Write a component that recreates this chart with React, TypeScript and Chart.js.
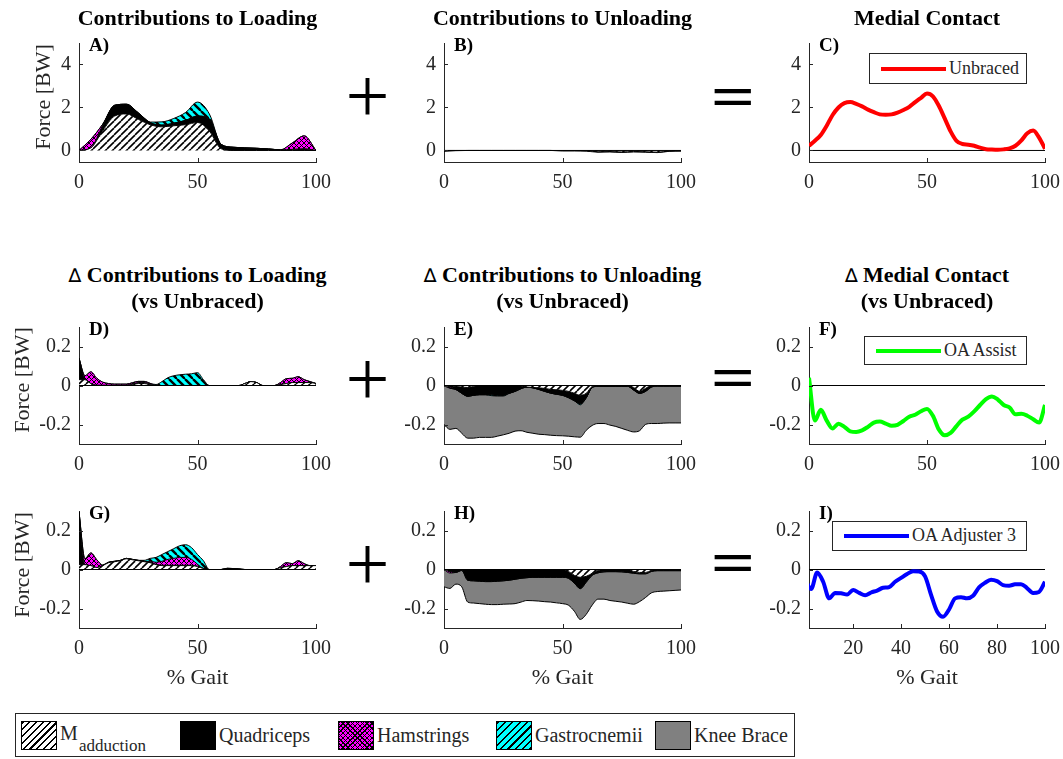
import React, { useEffect, useRef } from "react";
import { Chart, registerables } from "chart.js";
Chart.register(...registerables);

const SERIF = '"Liberation Serif", "Times New Roman", Times, serif';
const AX = "#262626";

// ---------- data ----------
const X5 = [0, 5, 10, 15, 20, 25, 30, 35, 40, 45, 50, 55, 60, 65, 70, 75, 80, 85, 90, 95, 100];
const X25 = [0, 2.5, 5, 7.5, 10, 12.5, 15, 17.5, 20, 22.5, 25, 27.5, 30, 32.5, 35, 37.5, 40, 42.5, 45, 47.5, 50,
  52.5, 55, 57.5, 60, 62.5, 65, 67.5, 70, 72.5, 75, 77.5, 80, 82.5, 85, 87.5, 90, 92.5, 95, 97.5, 100];

const X_TICKS = [0, 50, 100];
const X_TICKS_I = [20, 40, 60, 80, 100];
const Y_TICKS_TOP = [0, 2, 4];
const Y_TICKS_DELTA = [-0.2, 0, 0.2];

// A) contributions to loading (unbraced), step 5 %
const A_MADD = [0, 0.12, 0.92, 1.6, 1.7, 1.45, 1.2, 1.1, 1.15, 1.2, 1.3, 0.9, 0.08, 0, 0, 0, 0, 0, 0, 0, 0];
const A_QUAD = [0, 0, 0.25, 0.5, 0.45, 0.3, 0.1, 0.08, 0.12, 0.2, 0.3, 0.55, 0.2, 0.15, 0.12, 0.1, 0.07, 0.03, 0.05, 0.08, 0];
const A_HAM = [0, 0.4, 0.05, 0, 0, 0, 0, 0, 0, 0, 0, 0, 0, 0, 0, 0, 0, 0, 0.3, 0.6, 0];
const A_GAST = [0, 0, 0, 0, 0, 0, 0.02, 0.15, 0.22, 0.37, 0.65, 0.25, 0, 0, 0, 0, 0, 0, 0, 0, 0];

// B) contributions to unloading (unbraced), step 5 %
const B_MADD = [0, 0, 0, 0, 0, 0, 0, 0, 0, 0, -0.01, -0.01, -0.02, -0.06, -0.05, -0.07, -0.05, -0.06, -0.08, -0.03, -0.02];
const B_QUAD = [-0.04, -0.01, 0, 0, 0, 0, 0, 0, 0, 0, -0.01, -0.01, -0.01, -0.02, -0.02, -0.02, -0.02, -0.02, -0.02, -0.01, -0.01];

// C) medial contact, unbraced, step 2.5 %
const C_UNBRACED = [0.22, 0.45, 0.72, 1.15, 1.65, 2.0, 2.2, 2.25, 2.17, 2.05, 1.9, 1.78, 1.68, 1.66, 1.68, 1.76, 1.88, 2.03,
  2.25, 2.45, 2.65, 2.52, 2.08, 1.49, 0.89, 0.45, 0.3, 0.27, 0.22, 0.13, 0.06, 0.04, 0.03, 0.05, 0.1, 0.22, 0.47, 0.8,
  0.93, 0.6, 0.08];

// D) delta loading, OA Assist
const D_MADD = [0.03, 0.03, 0.01, 0, 0, 0, 0, 0, 0, 0.005, 0.01, 0.01, 0.005, 0, 0, 0, 0, 0, 0, 0, 0, 0, 0, 0, 0, 0, 0, 0,
  0.01, 0.02, 0.015, 0, 0, 0, 0.005, 0.01, 0.015, 0.015, 0.015, 0.015, 0.01];
const D_QUAD = [0.11, 0, 0, 0.002, 0.002, 0.002, 0.002, 0.002, 0.002, 0.003, 0.005, 0.006, 0.003, 0, 0, 0, 0, 0, 0, 0, 0,
  0, 0, 0, 0, 0, 0, 0, 0, 0, 0, 0, 0, 0, 0, 0, 0, 0, 0, 0, 0];
const D_HAM = [0, 0.02, 0.06, 0.035, 0.015, 0.008, 0.005, 0.005, 0.005, 0.006, 0.006, 0.005, 0.003, 0, 0, 0, 0, 0, 0, 0, 0,
  0, 0, 0, 0, 0, 0, 0, 0, 0, 0, 0, 0, 0, 0.01, 0.025, 0.022, 0.03, 0.015, 0.005, 0];
const D_GAST = [0, 0, 0, 0, 0, 0, 0, 0, 0, 0, 0, 0, 0, 0.005, 0.02, 0.04, 0.05, 0.055, 0.058, 0.06, 0.066, 0.03, 0, 0, 0,
  0, 0, 0, 0, 0, 0, 0, 0, 0, 0, 0, 0, 0, 0, 0, 0];

// E) delta unloading, OA Assist
const E_MADD = [0, 0, -0.005, -0.008, -0.01, -0.005, 0, 0, 0, 0, 0, 0, 0, -0.003, -0.008, -0.01, -0.012, -0.015, -0.02,
  -0.022, -0.025, -0.03, -0.04, -0.05, -0.04, -0.005, 0, 0, 0, 0, 0, 0, -0.01, -0.03, -0.015, 0, 0, 0, 0, 0, 0];
const E_QUAD = [0, -0.008, -0.015, -0.032, -0.045, -0.045, -0.047, -0.047, -0.048, -0.05, -0.05, -0.04, -0.03, -0.013, 0,
  -0.002, -0.008, -0.015, -0.019, -0.023, -0.025, -0.032, -0.038, -0.044, -0.023, -0.005, -0.004, -0.004, -0.004,
  -0.004, -0.004, -0.004, -0.013, -0.01, -0.015, -0.008, -0.003, -0.003, -0.003, -0.003, -0.003];
const E_HAM = [0, -0.006, 0, 0, 0, 0, 0, 0, 0, 0, 0, 0, 0, 0, 0, 0, 0, 0, 0, 0, 0, 0, 0, 0, 0, 0, 0, 0, 0, 0, 0, 0, 0, 0,
  0, 0, 0, 0, 0, 0, 0];
const E_GAST = [0, 0, 0, 0, 0, 0, 0, 0, -0.004, -0.004, -0.004, 0, 0, 0, 0, 0, 0, 0, 0, 0, 0, 0, 0, -0.005, 0, 0, 0, 0,
  0, 0, 0, 0, 0, 0, 0, 0, 0, 0, 0, 0, 0];
const E_BRACE = [-0.2, -0.211, -0.2, -0.205, -0.215, -0.22, -0.219, -0.219, -0.214, -0.206, -0.199, -0.205, -0.204,
  -0.216, -0.232, -0.233, -0.23, -0.222, -0.216, -0.212, -0.208, -0.198, -0.185, -0.166, -0.167, -0.195, -0.191, -0.191,
  -0.199, -0.206, -0.216, -0.226, -0.215, -0.192, -0.17, -0.187, -0.192, -0.19, -0.189, -0.189, -0.189];

// F) delta medial contact, OA Assist
const F_ASSIST = [0.04, -0.18, -0.125, -0.18, -0.22, -0.196, -0.212, -0.235, -0.238, -0.23, -0.212, -0.19, -0.185, -0.195,
  -0.207, -0.202, -0.182, -0.16, -0.15, -0.132, -0.12, -0.155, -0.225, -0.255, -0.243, -0.208, -0.175, -0.16, -0.133,
  -0.1, -0.07, -0.056, -0.072, -0.1, -0.113, -0.148, -0.145, -0.155, -0.173, -0.19, -0.1];

// G) delta loading, OA Adjuster 3
const G_MADD = [0.025, 0.025, 0.02, 0.01, 0.02, 0.035, 0.04, 0.045, 0.055, 0.05, 0.045, 0.04, 0.035, 0.025, 0.02, 0.02,
  0.02, 0.02, 0.02, 0.02, 0.015, 0.005, 0, 0, 0, 0, 0, 0, 0, 0, 0, 0, 0, 0, 0.01, 0.015, 0.02, 0.02, 0.02, 0.02, 0.02];
const G_QUAD = [0.27, 0, 0, 0, 0.002, 0.002, 0.002, 0.002, 0.002, 0.002, 0.002, 0.002, 0.002, 0.002, 0.002, 0.002, 0.002,
  0.002, 0.002, 0.002, 0.002, 0, 0, 0, 0, 0.006, 0.005, 0.003, 0, 0, 0, 0, 0, 0, 0, 0, 0, 0, 0, 0, 0];
const G_HAM = [0, 0.03, 0.065, 0.04, 0, 0, 0, 0, 0, 0, 0, 0, 0.005, 0.01, 0.02, 0.03, 0.035, 0.04, 0.04, 0.03, 0.01, 0,
  0, 0, 0, 0, 0, 0, 0, 0, 0, 0, 0, 0, 0.005, 0.02, 0.01, 0.025, 0.01, 0, 0];
const G_GAST = [0, 0, 0, 0, 0, 0, 0, 0, 0, 0, 0, 0.005, 0.015, 0.025, 0.035, 0.04, 0.05, 0.06, 0.065, 0.06, 0.05, 0.04,
  0, 0, 0, 0, 0, 0, 0, 0, 0, 0, 0, 0, 0, 0, 0, 0, 0, 0, 0];

// H) delta unloading, OA Adjuster 3
const H_MADD = [0, 0, 0, 0, 0, 0, 0, 0, 0, 0, 0, 0, 0, 0, 0, 0, 0, 0, 0, 0, 0, -0.01, -0.03, -0.04, -0.035, -0.02, -0.005,
  0, 0, 0, 0, 0, -0.01, -0.015, -0.015, -0.005, 0, 0, 0, 0, 0];
const H_QUAD = [0, -0.01, -0.015, -0.005, -0.055, -0.058, -0.06, -0.062, -0.062, -0.06, -0.058, -0.055, -0.05, -0.045,
  -0.042, -0.04, -0.04, -0.04, -0.04, -0.04, -0.04, -0.035, -0.04, -0.058, -0.03, -0.01, -0.012, -0.012, -0.011, -0.011,
  -0.012, -0.015, -0.009, -0.007, -0.007, -0.005, -0.006, -0.006, -0.006, -0.006, -0.006];
const H_HAM = [0, -0.008, 0, 0, 0, 0, 0, 0, 0, 0, 0, 0, 0, 0, 0, 0, 0, 0, 0, 0, 0, 0, 0, 0, 0, 0, 0, 0, 0, 0, 0, 0, 0, 0,
  0, 0, 0, 0, 0, 0, 0];
const H_BRACE = [-0.089, -0.079, -0.06, -0.084, -0.112, -0.114, -0.115, -0.116, -0.118, -0.12, -0.12, -0.122, -0.125,
  -0.122, -0.117, -0.12, -0.122, -0.125, -0.127, -0.131, -0.135, -0.138, -0.144, -0.158, -0.165, -0.153, -0.135, -0.14,
  -0.148, -0.152, -0.155, -0.158, -0.159, -0.143, -0.122, -0.11, -0.107, -0.105, -0.103, -0.101, -0.099];

// I) delta medial contact, OA Adjuster 3
const I_ADJ = [-0.05, -0.1, -0.015, -0.063, -0.148, -0.12, -0.122, -0.128, -0.105, -0.12, -0.132, -0.118, -0.108, -0.094,
  -0.09, -0.063, -0.043, -0.023, -0.009, -0.01, -0.035, -0.13, -0.215, -0.242, -0.205, -0.148, -0.142, -0.148, -0.135,
  -0.092, -0.068, -0.053, -0.06, -0.08, -0.083, -0.076, -0.075, -0.095, -0.12, -0.115, -0.063];

const LEGEND_LABELS = ["Quadriceps", "Hamstrings", "Gastrocnemii", "Knee Brace"];

// ---------- layout ----------
const ROWS = [{ t: 33, b: 162 }, { t: 317, b: 444 }, { t: 501, b: 628 }];
const COLS = [{ l: 79, r: 316 }, { l: 444, r: 681 }, { l: 809, r: 1045 }];
const YW = 70, PR = 24, PT = 10, XH = 40;

type Layer = [number[], string];
type PanelCfg = {
  row: number; col: number; xs: number[]; xmin: number; xmax: number; xticks: number[];
  ymin: number; ymax: number; yticks: number[]; layers?: Layer[]; line?: { data: number[]; color: string };
  zero: boolean;
};

const TOPY = { ymin: -0.537, ymax: 5, yticks: Y_TICKS_TOP };
const DY = { ymin: -0.3, ymax: 0.3, yticks: Y_TICKS_DELTA };
const STDX = { xmin: 0, xmax: 100, xticks: X_TICKS };

const PANELS: PanelCfg[] = [
  { row: 0, col: 0, xs: X5, ...STDX, ...TOPY, zero: false,
    layers: [[A_MADD, "madd"], [A_QUAD, "quad"], [A_HAM, "ham"], [A_GAST, "gast"]] },
  { row: 0, col: 1, xs: X5, ...STDX, ...TOPY, zero: true, layers: [[B_MADD, "madd"], [B_QUAD, "quad"]] },
  { row: 0, col: 2, xs: X25, ...STDX, ...TOPY, zero: true, line: { data: C_UNBRACED, color: "#ff0000" } },
  { row: 1, col: 0, xs: X25, ...STDX, ...DY, zero: true,
    layers: [[D_MADD, "madd"], [D_QUAD, "quad"], [D_HAM, "ham"], [D_GAST, "gast"]] },
  { row: 1, col: 1, xs: X25, ...STDX, ...DY, zero: true,
    layers: [[E_MADD, "madd"], [E_QUAD, "quad"], [E_HAM, "ham"], [E_GAST, "gast"], [E_BRACE, "brace"]] },
  { row: 1, col: 2, xs: X25, ...STDX, ...DY, zero: true, line: { data: F_ASSIST, color: "#00ff00" } },
  { row: 2, col: 0, xs: X25, ...STDX, ...DY, zero: true,
    layers: [[G_MADD, "madd"], [G_QUAD, "quad"], [G_HAM, "ham"], [G_GAST, "gast"]] },
  { row: 2, col: 1, xs: X25, ...STDX, ...DY, zero: true,
    layers: [[H_MADD, "madd"], [H_QUAD, "quad"], [H_HAM, "ham"], [H_BRACE, "brace"]] },
  { row: 2, col: 2, xs: X25, xmin: 1.6, xmax: 100, xticks: X_TICKS_I, ...DY, zero: true,
    line: { data: I_ADJ, color: "#0000ff" } },
];

function hatch(bg: string, fg: string, s: number, lw: number, dirs: string[]): CanvasPattern | string {
  const c = document.createElement("canvas");
  c.width = s; c.height = s;
  const g = c.getContext("2d");
  if (!g) return bg;
  g.fillStyle = bg; g.fillRect(0, 0, s, s);
  g.strokeStyle = fg; g.lineWidth = lw;
  for (const d of dirs) {
    for (let k = -1; k <= 1; k++) {
      g.beginPath();
      if (d === "/") { g.moveTo(k * s, s); g.lineTo(k * s + s, 0); }
      else { g.moveTo(k * s, 0); g.lineTo(k * s + s, s); }
      g.stroke();
    }
  }
  return g.createPattern(c, "repeat") || bg;
}

const inTicks = {
  id: "inTicks",
  afterDraw(chart: any) {
    const { ctx, chartArea: a, scales } = chart;
    ctx.save();
    ctx.strokeStyle = AX; ctx.lineWidth = 1;
    ctx.beginPath();
    for (const t of scales.x.ticks) {
      const px = Math.round(scales.x.getPixelForValue(t.value)) + 0.5;
      ctx.moveTo(px, a.bottom); ctx.lineTo(px, a.bottom - 4);
    }
    for (const t of scales.y.ticks) {
      const py = Math.round(scales.y.getPixelForValue(t.value)) + 0.5;
      ctx.moveTo(a.left, py); ctx.lineTo(a.left + 4, py);
    }
    ctx.stroke();
    ctx.restore();
  },
};

function geom(p: PanelCfg) {
  const { l, r } = COLS[p.col];
  const { t, b } = ROWS[p.row];
  return { left: l - YW, top: t - PT, width: r - l + YW + PR, height: b - t + PT + XH };
}

function makeChart(canvas: HTMLCanvasElement, p: PanelCfg, pats: Record<string, any>) {
  const ds: any[] = [];
  const zeroDs = {
    data: [{ x: p.xmin, y: 0 }, { x: p.xmax, y: 0 }], borderColor: "#000", borderWidth: 1,
    pointRadius: 0, fill: false,
  };
  if (p.line) {
    ds.push({
      data: p.xs.map((x, i) => ({ x, y: p.line!.data[i] })), borderColor: p.line.color, borderWidth: 4,
      pointRadius: 0, fill: false, cubicInterpolationMode: "monotone",
    });
    ds.push(zeroDs);
  } else {
    if (p.zero) ds.push(zeroDs);
    let cum = p.xs.map(() => 0);
    (p.layers || []).forEach(([vals, key], k) => {
      cum = cum.map((c, i) => c + vals[i]);
      const idx = ds.length;
      ds.push({
        data: p.xs.map((x, i) => ({ x, y: cum[i] })), fill: k === 0 ? "origin" : idx - 1,
        backgroundColor: pats[key], borderColor: "#000", borderWidth: 1, pointRadius: 0,
        cubicInterpolationMode: "monotone",
      });
    });
  }
  const font = { family: SERIF, size: 20 };
  return new Chart(canvas, {
    type: "line",
    data: { datasets: ds },
    options: {
      animation: false, responsive: false, devicePixelRatio: 1, events: [],
      layout: { padding: { left: 0, right: PR, top: PT, bottom: 0 } },
      plugins: { legend: { display: false }, tooltip: { enabled: false } },
      scales: {
        x: {
          type: "linear", min: p.xmin, max: p.xmax,
          grid: { display: false, drawTicks: false }, border: { display: true, color: AX, width: 1 },
          ticks: { font, color: AX, padding: 9, maxRotation: 0, autoSkip: false, callback: (v: any) => String(v) },
          afterBuildTicks: (s: any) => { s.ticks = p.xticks.map((v) => ({ value: v })); },
          afterFit: (s: any) => { s.height = XH; },
        },
        y: {
          type: "linear", min: p.ymin, max: p.ymax,
          grid: { display: false, drawTicks: false }, border: { display: true, color: AX, width: 1 },
          ticks: { font, color: AX, padding: 8, autoSkip: false, callback: (v: any) => String(v) },
          afterBuildTicks: (s: any) => { s.ticks = p.yticks.map((v) => ({ value: v })); },
          afterFit: (s: any) => { s.width = YW; },
        },
      },
    } as any,
    plugins: [inTicks],
  });
}

const Txt = (props: {
  x: number; y: number; size: number; bold?: boolean; rot?: number; align?: "center" | "left";
  color?: string; family?: string; children: React.ReactNode;
}) => {
  const { x, y, size, bold, rot, align = "center", color = "#000", family = SERIF } = props;
  const tx = align === "center" ? "-50%" : "0";
  return (
    <div style={{
      position: "absolute", left: x, top: y, fontSize: size, fontWeight: bold ? 700 : 400, fontFamily: family,
      color, whiteSpace: "nowrap", lineHeight: 1.15,
      transform: `translate(${tx},-50%)${rot ? ` rotate(${rot}deg)` : ""}`,
    }}>{props.children}</div>
  );
};

const Sym = ({ x, y, ch, sy = 1, bold = false }: { x: number; y: number; ch: string; sy?: number; bold?: boolean }) => (
  <div style={{
    position: "absolute", left: x, top: y, fontSize: 78, lineHeight: 1, fontFamily: SERIF, color: "#000",
    fontWeight: bold ? 700 : 400, transform: `translate(-50%,-50%) scaleY(${sy})`, whiteSpace: "nowrap",
  }}>{ch}</div>
);

const InLegend = ({ l, t, w, h, color, label }: { l: number; t: number; w: number; h: number; color: string; label: string }) => (
  <div style={{ position: "absolute", left: l, top: t, width: w, height: h, boxSizing: "border-box",
    border: `1px solid ${AX}`, background: "#fff" }}>
    <div style={{ position: "absolute", left: 11, top: h / 2 - 2 - 1, width: 65, height: 4, background: color }} />
    <div style={{ position: "absolute", left: 79, top: h / 2 - 1, transform: "translateY(-50%)", fontFamily: SERIF,
      fontSize: 18, color: AX, whiteSpace: "nowrap", lineHeight: 1.1 }}>{label}</div>
  </div>
);

const Delta = () => <span style={{ fontWeight: 400, fontFamily: '"DejaVu Sans", sans-serif', fontSize: 19 }}>∆</span>;

export default function App() {
  const refs = useRef<(HTMLCanvasElement | null)[]>([]);
  useEffect(() => {
    const pats: Record<string, any> = {
      madd: hatch("#ffffff", "#000000", 7, 1.6, ["/"]),
      quad: "#000000",
      ham: hatch("#ff00ff", "#000000", 5, 1.0, ["/", "\\"]),
      gast: hatch("#00ffff", "#000000", 8, 2.4, ["\\"]),
      brace: "#808080",
    };
    const charts = PANELS.map((p, i) => makeChart(refs.current[i] as HTMLCanvasElement, p, pats));
    return () => charts.forEach((c) => c.destroy());
  }, []);

  const cx = COLS.map((c) => (c.l + c.r) / 2);
  const letters = ["A)", "B)", "C)", "D)", "E)", "F)", "G)", "H)", "I)"];
  const maddBg = "repeating-linear-gradient(135deg, #000 0 1.5px, #fff 1.5px 4.8px)";
  const hamBg = "repeating-linear-gradient(45deg, #000 0 1px, transparent 1px 3.4px), repeating-linear-gradient(135deg, #000 0 1px, transparent 1px 3.4px), #ff00ff";
  const gastBg = "repeating-linear-gradient(135deg, #000 0 1.6px, #00ffff 1.6px 5.2px)";
  const swatches = [
    { x: 21, bg: maddBg }, { x: 180, bg: "#000" }, { x: 338, bg: hamBg }, { x: 496, bg: gastBg }, { x: 655, bg: "#808080" },
  ];
  const textX = [219, 377, 535, 694];

  return (
    <div style={{ position: "absolute", left: 0, top: 0, width: 1063, height: 759, background: "#fff", overflow: "hidden" }}>
      {PANELS.map((p, i) => {
        const g = geom(p);
        return (
          <canvas key={i} ref={(el) => { refs.current[i] = el; }} width={g.width} height={g.height}
            style={{ position: "absolute", left: g.left, top: g.top, width: g.width, height: g.height }} />
        );
      })}

      {/* titles */}
      <Txt x={cx[0]} y={18} size={22} bold>Contributions to Loading</Txt>
      <Txt x={cx[1]} y={18} size={22} bold>Contributions to Unloading</Txt>
      <Txt x={cx[2]} y={18} size={22} bold>Medial Contact</Txt>
      <Txt x={cx[0]} y={275} size={22} bold><Delta /> Contributions to Loading</Txt>
      <Txt x={cx[0]} y={301} size={22} bold>(vs Unbraced)</Txt>
      <Txt x={cx[1]} y={275} size={22} bold><Delta /> Contributions to Unloading</Txt>
      <Txt x={cx[1]} y={301} size={22} bold>(vs Unbraced)</Txt>
      <Txt x={cx[2]} y={275} size={22} bold><Delta /> Medial Contact</Txt>
      <Txt x={cx[2]} y={301} size={22} bold>(vs Unbraced)</Txt>

      {/* y labels */}
      <Txt x={43} y={97} size={22} rot={-90} color={AX}>Force [BW]</Txt>
      <Txt x={22} y={380} size={22} rot={-90} color={AX}>Force [BW]</Txt>
      <Txt x={22} y={565} size={22} rot={-90} color={AX}>Force [BW]</Txt>

      {/* x labels */}
      {cx.map((x, i) => <Txt key={i} x={x} y={677} size={22} color={AX}>% Gait</Txt>)}

      {/* panel letters */}
      {PANELS.map((p, i) => (
        <Txt key={i} x={COLS[p.col].l + 10} y={ROWS[p.row].t + 12} size={19} bold align="left">{letters[i]}</Txt>
      ))}

      {/* + and = */}
      <Sym x={367.5} y={96} ch="+" />
      <Sym x={733} y={95.5} ch="=" bold sy={0.75} />
      <Sym x={367.5} y={378.5} ch="+" />
      <Sym x={733} y={377} ch="=" bold sy={0.75} />
      <Sym x={367.5} y={563.5} ch="+" />
      <Sym x={733} y={562} ch="=" bold sy={0.75} />

      {/* in-panel legends */}
      <InLegend l={869} t={53} w={158} h={31} color="#ff0000" label="Unbraced" />
      <InLegend l={864} t={336} w={163} h={29} color="#00ff00" label="OA Assist" />
      <InLegend l={832} t={521} w={195} h={30} color="#0000ff" label="OA Adjuster 3" />

      {/* bottom legend */}
      <div style={{ position: "absolute", left: 15, top: 713, width: 780, height: 44, boxSizing: "border-box",
        border: `1px solid ${AX}`, background: "#fff" }} />
      {swatches.map((s, i) => (
        <div key={i} style={{ position: "absolute", left: s.x, top: 721, width: 36, height: 29, boxSizing: "border-box",
          border: "1px solid #000", background: s.bg }} />
      ))}
      <Txt x={60} y={733} size={20} align="left" color={AX}>M</Txt>
      <Txt x={79} y={746} size={17} align="left" color={AX}>adduction</Txt>
      {LEGEND_LABELS.map((lab, i) => (
        <Txt key={i} x={textX[i]} y={735} size={20} align="left" color={AX}>{lab}</Txt>
      ))}
    </div>
  );
}
